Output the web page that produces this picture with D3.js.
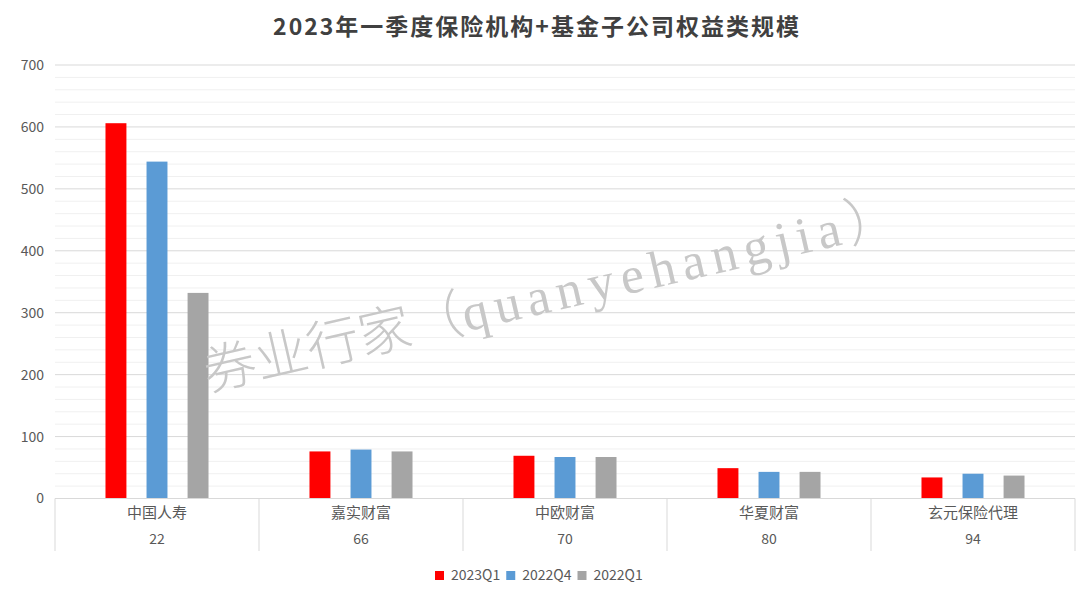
<!DOCTYPE html>
<html><head><meta charset="utf-8">
<script src="https://cdn.jsdelivr.net/npm/d3@7"></script>
<style>body{margin:0;background:#fff;} svg{display:block;}</style>
</head><body>
<svg id="c" width="1080" height="600"></svg>
<script>
const categories = ["中国人寿","嘉实财富","中欧财富","华夏财富","玄元保险代理"];
const subLabels = ["22","66","70","80","94"];
const seriesNames = ["2023Q1","2022Q4","2022Q1"];
const s2023Q1 = [606, 76, 69, 49, 34];
const s2022Q4 = [544, 79, 67, 43, 40];
const s2022Q1 = [332, 76, 67, 43, 37];
const colors = ["#ff0000","#5b9bd5","#a5a5a5"];
const yTicks = [0,100,200,300,400,500,600,700];
const title = "2023年一季度保险机构+基金子公司权益类规模";

const series = [s2023Q1, s2022Q4, s2022Q1];
const svg = d3.select("#c");
const L = 55, R = 1075, T = 65, B = 498.5;
const font = "'Noto Sans CJK SC','Noto Sans',sans-serif";

const x = d3.scaleBand().domain(categories).range([L, R]);
const xi = d3.scaleBand().domain(seriesNames).range([0, x.bandwidth()]).paddingInner(0.49).paddingOuter(1.23);
const y = d3.scaleLinear().domain([0,700]).range([B, T]);

// minor gridlines
const minor = d3.range(20, 700, 20).filter(v => v % 100 !== 0);
svg.append("g").selectAll("line").data(minor).join("line")
  .attr("x1", L).attr("x2", R).attr("y1", d=>y(d)).attr("y2", d=>y(d))
  .attr("stroke", "#f0f0f0").attr("stroke-width", 1);
// major gridlines
svg.append("g").selectAll("line").data(yTicks.filter(d=>d>0)).join("line")
  .attr("x1", L).attr("x2", R).attr("y1", d=>y(d)).attr("y2", d=>y(d))
  .attr("stroke", "#d9d9d9").attr("stroke-width", 1);

// y axis labels
const yAxis = d3.axisLeft(y).tickValues(yTicks).tickSize(0).tickPadding(11);
const ya = svg.append("g").attr("transform", `translate(${L},0)`).call(yAxis);
ya.select(".domain").remove();
ya.selectAll("text").attr("font-family", font).attr("font-size", 14).attr("fill", "#595959");

// bars
const g = svg.append("g");
categories.forEach((c, ci) => {
  series.forEach((s, si) => {
    g.append("rect")
      .attr("x", x(c) + xi(seriesNames[si]))
      .attr("y", y(s[ci]))
      .attr("width", xi.bandwidth())
      .attr("height", y(0) - y(s[ci]))
      .attr("fill", colors[si]);
  });
});

// watermark
const wm = svg.append("text")
  .attr("transform", "translate(208,391) rotate(-13)")
  .attr("fill", "#c8c8c8").attr("font-weight", 300);
wm.append("tspan").attr("font-family", "'Noto Sans CJK SC',sans-serif").attr("font-size", 53).text("券业行家（");
wm.append("tspan").attr("font-family", "'Liberation Serif','DejaVu Serif',serif").attr("font-size", 52)
  .attr("letter-spacing", 7).text("quanyehangjia");
wm.append("tspan").attr("font-family", "'Noto Sans CJK SC',sans-serif").attr("font-size", 53).attr("letter-spacing", 0).text("）");

// baseline & table
svg.append("line").attr("x1", L).attr("x2", R).attr("y1", B).attr("y2", B).attr("stroke", "#d9d9d9");
const seps = categories.map(c => x(c)).concat([R]);
svg.append("g").selectAll("line").data(seps).join("line")
  .attr("x1", d=>d).attr("x2", d=>d).attr("y1", B).attr("y2", 551)
  .attr("stroke", "#d9d9d9");

const xAxis = svg.append("g");
xAxis.selectAll("text.cat").data(categories).join("text").attr("class","cat")
  .attr("x", d => x(d) + x.bandwidth()/2).attr("y", 518)
  .attr("text-anchor", "middle").attr("font-family", font).attr("font-size", 15).attr("fill", "#595959")
  .text(d => d);
xAxis.selectAll("text.sub").data(subLabels).join("text").attr("class","sub")
  .attr("x", (d,i) => x(categories[i]) + x.bandwidth()/2).attr("y", 544)
  .attr("text-anchor", "middle").attr("font-family", font).attr("font-size", 14).attr("fill", "#595959")
  .text(d => d);

// title
svg.append("text").attr("x", 537).attr("y", 35).attr("text-anchor", "middle")
  .attr("font-family", font).attr("font-size", 23).attr("letter-spacing", 2).attr("font-weight", "bold").attr("fill", "#404040")
  .text(title);

// legend
const lg = svg.append("g").attr("transform", "translate(435,575)");
let lx = 0;
seriesNames.forEach((n, i) => {
  const item = lg.append("g").attr("transform", `translate(${lx},0)`);
  item.append("rect").attr("x", 0).attr("y", -4).attr("width", 9).attr("height", 9).attr("fill", colors[i]);
  const t = item.append("text").attr("x", 16).attr("y", 5).attr("font-family", font).attr("font-size", 14).attr("fill", "#595959").text(n);
  lx += 16 + t.node().getComputedTextLength() + 6;
});
</script>
</body></html>
